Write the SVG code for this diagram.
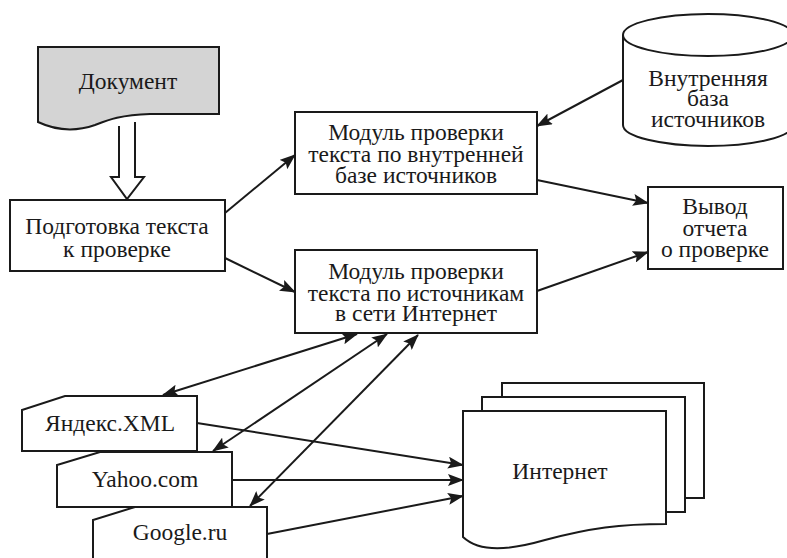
<svg xmlns="http://www.w3.org/2000/svg" width="787" height="558" viewBox="0 0 787 558">
<defs>
<marker id="ah" viewBox="0 0 16 12" refX="15" refY="6" markerWidth="16" markerHeight="12" markerUnits="userSpaceOnUse" orient="auto-start-reverse">
<path d="M0,0 L16,6 L0,12 L3,6 Z" fill="#1a1a1a"/>
</marker>
</defs>
<style>
.s{fill:#fff;stroke:#1a1a1a;stroke-width:2}
.t{font-size:23.5px;fill:#1a1a1a;text-anchor:middle}
.c{fill:none;stroke:#1a1a1a;stroke-width:2}
</style>
<rect width="787" height="558" fill="#fff"/>
<g font-family="Liberation Serif, DejaVu Serif, serif">
<g id="document">
<path class="s" style="fill:#d4d4d4" d="M38,47 L219,47 L219,114 L150,114 C120,115 108,120 95,125 C75,132 55,130 38,122 Z"/>
<text class="t" x="128" y="89">Документ</text>
</g>
<g id="hollow-arrow">
<path class="s" d="M119,126 L119,177 L111,177 L127,199 L144,177 L135,177 L135,122"/>
</g>
<g id="prep">
<rect class="s" x="10" y="200" width="215" height="71"/>
<text class="t" x="117" y="234">Подготовка текста</text>
<text class="t" x="117" y="257">к проверке</text>
</g>
<g id="module1">
<rect class="s" x="295" y="112" width="242" height="82"/>
<text class="t" x="416" y="140">Модуль проверки</text>
<text class="t" x="416" y="162">текста по внутренней</text>
<text class="t" x="416" y="183">базе источников</text>
</g>
<g id="module2">
<rect class="s" x="295" y="250" width="242" height="83"/>
<text class="t" x="416" y="279">Модуль проверки</text>
<text class="t" x="416" y="301">текста по источникам</text>
<text class="t" x="416" y="321">в сети Интернет</text>
</g>
<g id="database">
<path class="s" d="M623,35 L623,125 A85,21 0 0 0 793,125 L793,35"/>
<ellipse class="s" cx="708" cy="35" rx="85" ry="21"/>
<text class="t" x="708" y="86">Внутренняя</text>
<text class="t" x="708" y="106">база</text>
<text class="t" x="708" y="127">источников</text>
</g>
<g id="output">
<rect class="s" x="648" y="187" width="135" height="82"/>
<text class="t" x="715" y="214">Вывод</text>
<text class="t" x="715" y="236">отчета</text>
<text class="t" x="715" y="257">о проверке</text>
</g>
<g id="yandex">
<path class="s" d="M65,396 L197,396 L197,451 L22,451 L22,410 Z"/>
<text class="t" x="110" y="431">Яндекс.XML</text>
</g>
<g id="yahoo">
<path class="s" d="M100,452 L232,452 L232,507 L57,507 L57,465 Z"/>
<text class="t" x="145" y="487">Yahoo.com</text>
</g>
<g id="google">
<path class="s" d="M135,507 L267,507 L267,562 L93,562 L93,520 Z"/>
<text class="t" x="180" y="540">Google.ru</text>
</g>
<g id="internet">
<rect class="s" x="502" y="383" width="202" height="115"/>
<rect class="s" x="482" y="397" width="203" height="115"/>
<path class="s" d="M463,411 L666,411 L666,524 C620,524 590,528 545,540 C510,550 480,553 463,537 Z"/>
<text class="t" x="560" y="479">Интернет</text>
</g>
</g>
<g id="connectors">
<line class="c" x1="225" y1="213" x2="295" y2="155" marker-end="url(#ah)"/>
<line class="c" x1="225" y1="258" x2="295" y2="292" marker-end="url(#ah)"/>
<line class="c" x1="623" y1="80" x2="537" y2="126" marker-end="url(#ah)"/>
<line class="c" x1="537" y1="180" x2="648" y2="203" marker-end="url(#ah)"/>
<line class="c" x1="537" y1="291" x2="648" y2="252" marker-end="url(#ah)"/>
<line class="c" x1="357" y1="334" x2="163" y2="395" marker-start="url(#ah)" marker-end="url(#ah)"/>
<line class="c" x1="387" y1="334" x2="213" y2="451" marker-start="url(#ah)" marker-end="url(#ah)"/>
<line class="c" x1="418" y1="335" x2="250" y2="506" marker-start="url(#ah)" marker-end="url(#ah)"/>
<line class="c" x1="197" y1="423" x2="463" y2="465" marker-end="url(#ah)"/>
<line class="c" x1="232" y1="480" x2="463" y2="480" marker-end="url(#ah)"/>
<line class="c" x1="267" y1="534" x2="463" y2="496" marker-end="url(#ah)"/>
</g>
</svg>
